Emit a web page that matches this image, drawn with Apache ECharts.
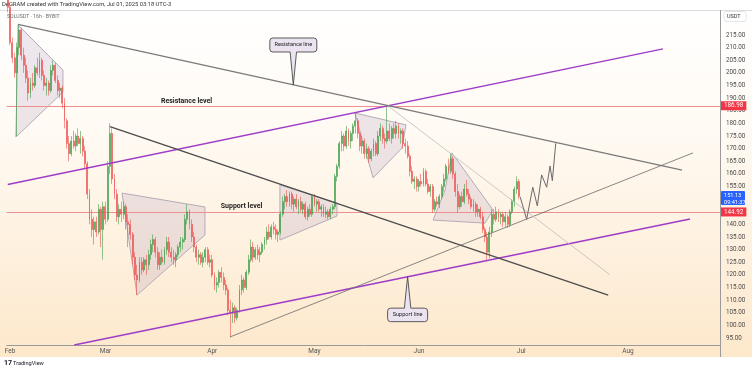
<!DOCTYPE html>
<html><head><meta charset="utf-8">
<script src="https://cdn.jsdelivr.net/npm/echarts@6/dist/echarts.min.js"></script>
<style>html,body{margin:0;padding:0;background:#fff}#c{width:752px;height:371px}</style>
</head><body><div id="c"></div>
<script>
// ---- candle data (16h candles from 2025-01-31 08:00 UTC) ----
const opens = [229,226,212,206,200,210,217,207,203,198,192,196,195,202,200,205,199,195,196,193,201,203,197,193,194,188,181,172,168,173,171,175,172,174,169,164,152,142,138,141,137,146,138,147,142,163,176,158,152,143,146,144,147,141,140,136,127,120,118,125,122,126,124,128,132,134,129,124,127,125,130,133,129,127,126,128,131,133,134,142,145,140,135,131,127,128,125,127,130,125,126,120,116,117,121,119,116,114,106,105,107,103,106,114,118,115,121,126,131,127,130,128,129,132,134,137,135,139,138,136,137,144,149,151,149,152,148,150,147,149,146,148,143,146,144,151,148,149,146,147,144,145,143,146,147,159,163,172,175,171,177,173,176,179,181,176,171,173,168,170,166,169,172,168,175,178,174,173,177,174,178,176,179,176,177,172,171,167,161,157,158,155,157,156,161,156,153,155,146,149,148,151,155,158,163,161,166,160,153,147,151,149,154,152,150,147,148,145,146,143,138,135,129,137,144,142,145,143,144,141,143,140,145,149,154,157];
const highs = [235,228,214,208,212,219,218,210,206,201,198,200,203,206,208,206,201,198,197,203,205,204,199,196,195,190,182,175,175,177,176,178,177,175,171,165,154,146,143,143,148,147,149,149,165,180,178,160,154,148,149,149,148,144,142,137,129,124,127,127,127,128,130,134,136,135,131,129,130,131,135,135,131,130,129,132,135,135,144,148,146,142,137,132,130,129,129,131,131,128,128,121,119,122,123,121,118,115,110,109,108,107,116,120,119,122,128,134,133,131,132,131,133,135,139,140,140,141,140,138,145,151,152,153.6,153,153,151,152,150,151,149,149,147,148,152,152,150,150,148,148,147,146,147,148,160,164,173,177,176,179,178,177,180,184.3,182,177,175,174,172,171,170,174,173,177,180,179,176,186.5,180,179,180,181,180,178,178,174,173,168,163,159,159,158,160,162.3,162,158,156,156,150,151,152,156,160,164,166,168.3,167,161,156,152,153,156,157.6,154,151,150,149,148,147,145,139,137,139,146,146,147,146,145,145,145,144,146,150,155,159,158];
const lows = [224,211,204,198,175,207,205,200,196,189,190,193,194,199,198,197,193,191,191,192,199,196,191,190,186,178,170,165,167,170,169,171,168,167,162,150,140,135,132,135,136,131,126,140,141,160,156,150,141,140,141,142,138,131,134,124,118,112,117,120,121,120,122,126,129,127,122,122,124,124,128,127,125,124,123,127,129,130,133,140,138,133,129,125,124,124,123,125,124,123,119,114,113,115,117,114,112,104,95.3,101,101,102,105,112,113,114,120,125,125,126,126,125,128,130,132,134,134,136,134,133,136,143,146,147,147,146,145,146,144,145,144,142,141.5,143,143,147,145,145,143,143,142.5,142,142,144,146,157,162,169,169,170,171,170,173,176,174,169,168,166,166,164.3,165,167,167,167,173,172,170,172,173,172,174,174,174,172,170,168,166,159,156,154,153,153,155,155,155,152,151,144.5,145,147,146.5,150,153,157,160,160,158,151,144.5,146,147,148,151,148,146,145,143,143,142,136.6,133,126,126.5,135,140,141,141,140,139,139,138.6,139,144,147,152,150];
const closes = [226,212,206,200,210,217,207,203,198,192,196,195,202,200,205,199,195,196,193,201,203,197,193,194,188,181,172,168,173,171,175,172,174,169,164,152,142,138,141,137,146,138,147,142,163,176,158,152,143,146,144,147,141,140,136,127,120,118,125,122,126,124,128,132,134,129,124,127,125,130,133,129,127,126,128,131,133,134,142,145,140,135,131,127,128,125,127,130,125,126,120,116,117,121,119,116,114,106,105,107,103,106,114,118,115,121,126,131,127,130,128,129,132,134,137,135,139,138,136,137,144,149,151,149,152,148,150,147,149,146,148,143,146,144,151,148,149,146,147,144,145,143,146,147,159,163,172,175,171,177,173,176,179,181,176,171,173,168,170,166,169,172,168,175,178,174,173,177,174,178,176,179,176,177,172,171,167,161,157,158,155,157,156,161,156,153,155,146,149,148,151,155,158,163,161,166,160,153,147,151,149,154,152,150,147,148,145,146,143,138,135,129,137,144,142,145,143,144,141,143,140,145,149,154,157,151.13];

// ---- axis ----
const monthNames = ['Jan','Feb','Mar','Apr','May','Jun','Jul','Aug','Sep'];
const priceTicks = [95,100,105,110,115,120,125,130,135,140,145,150,155,160,165,170,175,180,185,190,195,200,205,210,215];
const totalSlots = 314;
const startTime = Date.UTC(2025,0,31,8);
const slotMs = 16*3600*1000;

// ---- levels ----
const resistanceLevel = 186.98;
const supportLevel = 144.92;
const lastPrice = 151.13;
const lastTimer = '09:41:37';

// ---- drawings in [candle index, price] ----
const resistanceLine = [[4.52,219.2],[296.8,161.5]];
const channelTop = [[0,155.8],[288.4,209.5]];
const channelBottom = [[29.25,92.23],[300.3,142.1]];
const downTrend = [[45.0,178.7],[264.3,112.0]];
const upTrend = [[97.8,95.4],[301.6,168.3]];
const thinDown = [[167.4,186.9],[265.1,120.0]];
const projection = [[225.5,151.0],[228.4,142.0],[231.1,154.7],[233.1,147.3],[235.0,159.6],[237.2,154.7],[238.7,163.1],[239.7,157.3],[241.2,172.1]];
const patterns = [
  [[4.52,219.0],[24.3,201.1],[24.3,192.4],[3.6,174.6]],
  [[50.3,152.4],[86.8,146.9],[86.8,135.8],[56.9,112.0]],
  [[119.8,155.6],[144.9,148.5],[144.9,143.3],[119.8,133.8]],
  [[152.8,184.1],[175.3,179.4],[173.5,170.2],[160.8,158.4]],
  [[195.5,168.3],[213.6,145.7],[210.1,140.5],[187.2,141.7],[192.5,153.6]]
];
const callouts = [
  {text:'Resistance line', at:[125.7,195.2], dir:'up'},
  {text:'Support line', at:[176.0,119.3], dir:'down'}
];
const levelTexts = [
  {text:'Resistance level', at:[78.7,188.9]},
  {text:'Support level', at:[102.9,147.3]}
];

const categories = [];
for (let i=0;i<totalSlots;i++) categories.push(startTime + i*slotMs);
const monthStart = new Set();
for (let i=1;i<totalSlots;i++){
  if (new Date(categories[i]).getUTCMonth() !== new Date(categories[i-1]).getUTCMonth()) monthStart.add(i);
}
const candleData = opens.map((o,i)=>[o, closes[i], lows[i], highs[i]]);

const FONT = 'Roboto, "Noto Sans", sans-serif';
const UP = '#41a04a', DOWN = '#ef5350';

function lineSeries(data, color, width){
  return {type:'line', xAxisIndex:1, yAxisIndex:0, data, symbol:'none', silent:true,
    lineStyle:{color, width}, z:4, animation:false};
}

function calloutPath(cx, tipX, tipY, dir, w, h, gap){
  const r = 3;
  let x0 = cx - w/2, x1 = cx + w/2, y0, y1;
  if (dir === 'up') { y1 = tipY - gap; y0 = y1 - h; }
  else { y0 = tipY + gap; y1 = y0 + h; }
  const b = 3.2;
  let d = '';
  if (dir === 'up') {
    d = `M${x0+r},${y0} H${x1-r} Q${x1},${y0} ${x1},${y0+r} V${y1-r} Q${x1},${y1} ${x1-r},${y1} H${cx+b} L${tipX},${tipY} L${cx-b},${y1} H${x0+r} Q${x0},${y1} ${x0},${y1-r} V${y0+r} Q${x0},${y0} ${x0+r},${y0} Z`;
  } else {
    d = `M${x0+r},${y0} H${cx-b} L${tipX},${tipY} L${cx+b},${y0} H${x1-r} Q${x1},${y0} ${x1},${y0+r} V${y1-r} Q${x1},${y1} ${x1-r},${y1} H${x0+r} Q${x0},${y1} ${x0},${y1-r} V${y0+r} Q${x0},${y0} ${x0+r},${y0} Z`;
  }
  return {d, cy:(y0+y1)/2};
}

const chart = echarts.init(document.getElementById('c'), null, {renderer:'canvas'});
const option = {
  animation:false,
  backgroundColor:'#ffffff',
  textStyle:{fontFamily:FONT},
  graphic:[
    {type:'rect', z:-10, silent:true, shape:{x:0,y:10,width:752,height:347},
      style:{fill:{type:'linear',x:0,y:0,x2:0,y2:1,colorStops:[{offset:0,color:'#ffffff'},{offset:0.35,color:'#fffaf3'},{offset:1,color:'#fde8cb'}]}}},
    {type:'line', z:-9, silent:true, shape:{x1:0,y1:10.5,x2:752,y2:10.5}, style:{stroke:'#dcdcdc',lineWidth:1}},
    {type:'line', z:5, silent:true, shape:{x1:720.5,y1:10,x2:720.5,y2:357}, style:{stroke:'#9a9a9a',lineWidth:1}},
    {type:'text', silent:true, left:2, top:2, style:{text:'DeGRAM created with TradingView.com, Jul 01, 2025 03:18 UTC-3', fill:'#333', font:'5.8px '+FONT}},
    {type:'text', silent:true, left:7, top:14, z:10, style:{text:'SOLUSDT · 16h · BYBIT', fill:'#6b6b6b', font:'5.2px '+FONT}},
    {type:'rect', silent:true, z:10, shape:{x:724,y:11.5,width:22,height:10,r:2}, style:{fill:'#fff',stroke:'#e0e0e0',lineWidth:0.8}},
    {type:'text', silent:true, z:11, left:727, top:13.5, style:{text:'USDT', fill:'#333', font:'5.5px '+FONT}},
    {type:'text', silent:true, left:4, top:359.5, style:{text:'17', fill:'#131722', font:'bold 7px '+FONT}},
    {type:'text', silent:true, left:13, top:360.5, style:{text:'TradingView', fill:'#131722', font:'5.6px '+FONT}},
    {type:'rect', silent:true, z:20, shape:{x:721,y:191,width:24,height:14,r:1}, style:{fill:'#2962ff'}},
    {type:'text', silent:true, z:21, left:724, top:192.5, style:{text:lastPrice.toFixed(2)+'\n'+lastTimer, fill:'#fff', font:'5.6px '+FONT, lineHeight:6.5}}
  ],
  grid:{left:6.6, right:32, top:10, height:335, show:false},
  xAxis:[
    {type:'category', data:categories, boundaryGap:true,
      axisLine:{show:true, lineStyle:{color:'#9a9a9a', width:1}},
      axisTick:{show:false},
      splitLine:{show:false},
      axisLabel:{interval:(i)=>monthStart.has(i), margin:3, color:'#555', fontSize:6.5, fontFamily:FONT,
        formatter:(v)=>monthNames[new Date(Number(v)).getUTCMonth()]}},
    {type:'value', min:-0.5, max:totalSlots-0.5, show:false}
  ],
  yAxis:[{type:'value', position:'right', min:92.23, max:224.9, scale:true,
    axisLine:{show:false}, axisTick:{show:false}, splitLine:{show:false},
    axisLabel:{customValues:priceTicks, formatter:(v)=>v.toFixed(2), color:'#4a4a4a', fontSize:6.3, fontFamily:FONT, margin:6}}],
  series:[
    {type:'custom', xAxisIndex:1, yAxisIndex:0, silent:true, z:2,
      data:patterns.map((p)=>[p[0][0],p[0][1]]),
      renderItem:(params, api)=>{
        const pts = patterns[params.dataIndex].map(pt=>api.coord(pt));
        return {type:'polygon', shape:{points:pts}, style:{fill:'rgba(150,118,170,0.17)', stroke:'#b4acb8', lineWidth:1}};
      }},
    lineSeries(channelTop, '#a03bc8', 1.5),
    lineSeries(channelBottom, '#a03bc8', 1.5),
    lineSeries(resistanceLine, '#7a7a7a', 1.2),
    lineSeries(downTrend, '#4d4d4d', 1.4),
    lineSeries(upTrend, '#6a6a6a', 0.8),
    lineSeries(thinDown, '#bdbdbd', 0.8),
    lineSeries(projection, '#6a6a6a', 1),
    {type:'candlestick', xAxisIndex:0, yAxisIndex:0, data:candleData, barWidth:1.4, z:3,
      itemStyle:{color:UP, color0:DOWN, borderColor:UP, borderColor0:DOWN, borderWidth:0.6},
      markLine:{silent:true, symbol:['none','none'], z:3, animation:false,
        data:[
          {yAxis:resistanceLevel, lineStyle:{color:'#ee8e8e', width:1, type:'solid'},
            label:{position:'end', distance:1, formatter:()=>resistanceLevel.toFixed(2), color:'#fff', backgroundColor:'#f23645', padding:[2,3,1,3], fontSize:6.3, fontFamily:FONT}},
          {yAxis:supportLevel, lineStyle:{color:'#ee8e8e', width:1, type:'solid'},
            label:{position:'end', distance:1, formatter:()=>supportLevel.toFixed(2), color:'#fff', backgroundColor:'#f23645', padding:[2,3,1,3], fontSize:6.3, fontFamily:FONT}}
        ]}},
    {type:'custom', xAxisIndex:1, yAxisIndex:0, silent:true, z:6,
      data:levelTexts.map(t=>t.at),
      renderItem:(params, api)=>{
        const t = levelTexts[params.dataIndex];
        const p = api.coord(t.at);
        return {type:'text', x:p[0], y:p[1], style:{text:t.text, fill:'#1e1e1e', font:'bold 7px '+FONT, align:'center', verticalAlign:'middle'}};
      }},
    {type:'custom', xAxisIndex:1, yAxisIndex:0, silent:true, z:7,
      data:callouts.map(c=>c.at),
      renderItem:(params, api)=>{
        const c = callouts[params.dataIndex];
        const p = api.coord(c.at);
        const w = c.dir==='up' ? 47 : 40;
        const h = c.dir==='up' ? 14 : 13.5;
        const gap = c.dir==='up' ? 33 : 31.5;
        const cp = calloutPath(p[0], p[0], p[1], c.dir, w, h, gap);
        return {type:'group', children:[
          {type:'path', shape:{pathData:cp.d}, style:{fill:'#ebe3ef', stroke:'#4a4a4a', lineWidth:0.9}},
          {type:'text', x:p[0], y:cp.cy, style:{text:c.text, fill:'#222', font:'5.6px '+FONT, align:'center', verticalAlign:'middle'}}
        ]};
      }}
  ]
};
chart.setOption(option);
</script>
</body></html>
